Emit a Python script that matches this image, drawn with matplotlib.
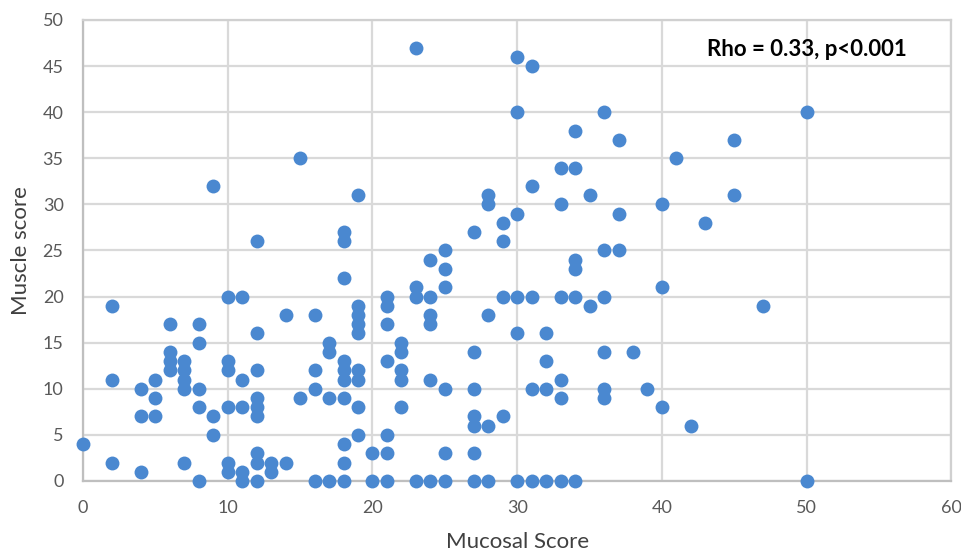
import matplotlib.pyplot as plt

plt.rcParams['font.family'] = ['Lato', 'DejaVu Sans']

# mucosal score (x) and muscle score (y), read column by column
mucosal = [0,
           2, 2, 2,
           4, 4, 4,
           5, 5, 5,
           6, 6, 6, 6,
           7, 7, 7, 7, 7,
           8, 8, 8, 8, 8,
           9, 9, 9,
           10, 10, 10, 10, 10, 10,
           11, 11, 11, 11, 11,
           12, 12, 12, 12, 12, 12, 12, 12, 12,
           13, 13,
           14, 14,
           15, 15,
           16, 16, 16, 16,
           17, 17, 17, 17,
           18, 18, 18, 18, 18, 18, 18, 18, 18, 18,
           19, 19, 19, 19, 19, 19, 19, 19, 19,
           20, 20,
           21, 21, 21, 21, 21, 21, 21,
           22, 22, 22, 22, 22,
           23, 23, 23, 23,
           24, 24, 24, 24, 24, 24,
           25, 25, 25, 25, 25, 25,
           27, 27, 27, 27, 27, 27, 27,
           28, 28, 28, 28, 28,
           29, 29, 29, 29,
           30, 30, 30, 30, 30, 30,
           31, 31, 31, 31, 31,
           32, 32, 32, 32,
           33, 33, 33, 33, 33, 33,
           34, 34, 34, 34, 34, 34,
           35, 35,
           36, 36, 36, 36, 36, 36,
           37, 37, 37,
           38, 39,
           40, 40, 40,
           41, 42, 43,
           45, 45,
           47,
           50, 50]
muscle = [4,
          19, 11, 2,
          10, 7, 1,
          11, 9, 7,
          17, 14, 13, 12,
          13, 12, 11, 10, 2,
          17, 15, 10, 8, 0,
          32, 7, 5,
          20, 13, 12, 8, 2, 1,
          20, 11, 8, 1, 0,
          26, 16, 12, 9, 8, 7, 3, 2, 0,
          2, 1,
          18, 2,
          35, 9,
          18, 12, 10, 0,
          15, 14, 9, 0,
          27, 26, 22, 13, 12, 11, 9, 4, 2, 0,
          31, 19, 18, 17, 16, 12, 11, 8, 5,
          3, 0,
          20, 19, 17, 13, 5, 3, 0,
          15, 14, 12, 11, 8,
          47, 21, 20, 0,
          24, 20, 18, 17, 11, 0,
          25, 23, 21, 10, 3, 0,
          27, 14, 10, 7, 6, 3, 0,
          31, 30, 18, 6, 0,
          28, 26, 20, 7,
          46, 40, 29, 20, 16, 0,
          45, 32, 20, 10, 0,
          16, 13, 10, 0,
          34, 30, 20, 11, 9, 0,
          38, 34, 24, 23, 20, 0,
          31, 19,
          40, 25, 20, 14, 10, 9,
          37, 29, 25,
          14, 10,
          30, 21, 8,
          35, 6, 28,
          37, 31,
          19,
          40, 0]

fig = plt.figure(figsize=(9.62, 5.54), dpi=100)
ax = fig.add_axes([0.0863, 0.1318, 0.9027, 0.8321])

ax.scatter(mucosal, muscle, s=100, color='#4A88D0', zorder=3, clip_on=False,
           linewidths=0)

ax.set_xlim(0, 60)
ax.set_ylim(0, 50)
ax.set_xticks(range(0, 61, 10))
ax.set_yticks(range(0, 51, 5))
ax.grid(True, color='#d9d9d9', linewidth=1.6, zorder=0)
ax.set_axisbelow(True)
for s in ax.spines.values():
    s.set_color('#d0d0d0')
    s.set_linewidth(1.6)
ax.spines['bottom'].set_color('#bfbfbf')
ax.spines['left'].set_color('#bfbfbf')
ax.tick_params(length=0, labelsize=13, labelcolor='#595959', pad=14)

ax.set_xlabel('Mucosal Score', fontsize=16, color='#404040', labelpad=11)
ax.set_ylabel('Muscle score', fontsize=16, color='#404040', labelpad=8)

fig.text(807 / 962, 1 - 50 / 554, 'Rho = 0.33, p<0.001', ha='center',
         va='center', fontsize=16, fontweight='bold', color='black')

fig.savefig('out.png', dpi=100)
